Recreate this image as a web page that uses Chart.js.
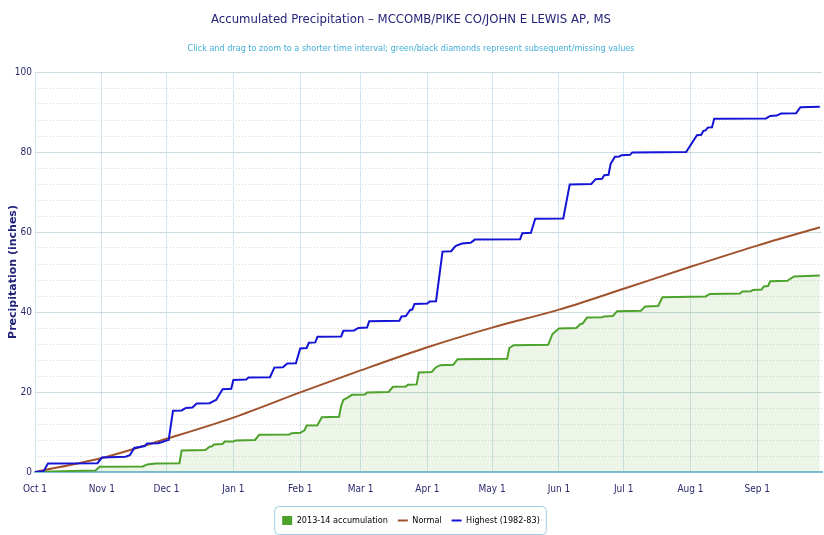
<!DOCTYPE html>
<html>
<head>
<meta charset="utf-8">
<script src="https://cdn.jsdelivr.net/npm/chart.js@4.4.1/dist/chart.umd.min.js"></script>
<style>
html,body{margin:0;padding:0;background:#fff;}
#wrap{width:824px;height:535px;}
</style>
</head>
<body>
<div id="wrap"><canvas id="c" width="824" height="535"></canvas></div>
<script>
// ---- Data (day index from Oct 1) ----
const monthDays   = [0, 31, 61, 92, 123, 151, 182, 212, 243, 273, 304, 335];
const monthLabels = ['Oct 1','Nov 1','Dec 1','Jan 1','Feb 1','Mar 1','Apr 1','May 1','Jun 1','Jul 1','Aug 1','Sep 1'];
const yTickValues = [0, 20, 40, 60, 80, 100];

const obsDays   = [0,12,28,30,50,52,56,67,68,79,81,82,83,87,88,92,93,102,104,118,119,123,125,126,131,133,141,142,143,145,147,153,154,164,166,172,173,177,178,184,186,188,194,196,219,220,222,238,240,243,251,253,254,256,263,264,268,270,281,283,289,291,311,313,327,328,332,333,337,338,340,341,349,350,352,364];
const obsValues = [0,0.2,0.4,1.3,1.4,1.9,2.1,2.2,5.4,5.5,6.3,6.4,6.9,7.0,7.6,7.6,7.9,8.0,9.3,9.4,9.7,9.8,10.4,11.6,11.7,13.7,13.8,16.5,18.0,18.6,19.3,19.4,19.9,20.0,21.3,21.4,21.8,21.9,24.9,25.0,26.2,26.7,26.8,28.2,28.3,31.0,31.7,31.8,34.5,35.9,36.0,37.0,37.1,38.6,38.7,38.9,39.0,40.2,40.3,41.4,41.5,43.7,43.9,44.5,44.6,45.1,45.2,45.5,45.6,46.4,46.5,47.7,47.8,48.2,48.9,49.1];

const normalDays   = [0,31,61,92,123,151,182,212,243,273,304,335,364];
const normalValues = [0,3.5,8.3,13.6,19.9,25.4,31.2,36.1,40.6,45.8,51.3,56.6,61.2];

const highDays   = [0,4,6,29,31,42,44,46,51,52,57,59,61,62,64,68,70,73,75,81,83,84,87,91,92,98,99,109,111,115,117,121,123,126,127,130,131,142,143,148,150,154,155,169,170,172,174,175,176,182,183,186,189,193,195,198,202,204,225,226,230,232,245,248,258,260,263,264,266,267,269,271,272,276,277,302,307,309,310,311,312,314,315,339,341,344,346,353,355,364];
const highValues = [0,0.2,2.1,2.2,3.6,3.8,4.2,6.0,6.5,7.1,7.2,7.5,7.9,8.0,15.3,15.4,16.0,16.1,17.1,17.2,17.8,18.0,20.7,20.8,23.0,23.1,23.6,23.7,26.1,26.2,27.1,27.2,30.9,31.0,32.3,32.4,33.8,33.9,35.3,35.4,36.0,36.1,37.7,37.8,38.9,39.0,40.5,40.6,42.0,42.1,42.6,42.7,55.1,55.2,56.5,57.1,57.3,58.1,58.2,59.7,59.8,63.3,63.4,71.9,72.0,73.2,73.3,74.2,74.3,77.1,78.8,78.9,79.2,79.3,79.9,80.0,84.2,84.3,85.3,85.4,86.1,86.2,88.3,88.4,89.0,89.1,89.6,89.7,91.2,91.3];

const seriesNames = ['2013-14 accumulation', 'Normal', 'Highest (1982-83)'];

const pts = (xs, ys) => xs.map((x, i) => ({ x: x, y: ys[i] }));

const NAVY = '#2a2a6e';
const NARROW = '"Liberation Sans Narrow","DejaVu Sans Condensed","Open Sans",sans-serif';

const legendBorder = {
  id: 'legendBorder',
  afterDraw(chart) {
    const lg = chart.legend;
    if (!lg || !lg.legendHitBoxes || !lg.legendHitBoxes.length) return;
    const boxes = lg.legendHitBoxes;
    let l = Infinity, r = -Infinity;
    boxes.forEach(b => { l = Math.min(l, b.left); r = Math.max(r, b.left + b.width); });
    const ctx = chart.ctx;
    ctx.save();
    ctx.strokeStyle = '#9fd0e4';
    ctx.lineWidth = 1;
    ctx.beginPath();
    ctx.roundRect(l - 7.5, lg.top + 0.5, (r - l) + 14, lg.height - 1, 4);
    ctx.stroke();
    ctx.restore();
  }
};

new Chart(document.getElementById('c'), {
  type: 'line',
  data: {
    datasets: [
      {
        label: seriesNames[0],
        data: pts(obsDays, obsValues),
        borderColor: '#4ca22a',
        backgroundColor: 'rgba(80,160,40,0.10)',
        fill: 'origin',
        borderWidth: 2,
        pointRadius: 0,
        tension: 0,
        order: 3
      },
      {
        label: seriesNames[1],
        data: pts(normalDays, normalValues),
        borderColor: '#a0522d',
        backgroundColor: '#a0522d',
        fill: false,
        borderWidth: 2,
        pointRadius: 0,
        cubicInterpolationMode: 'monotone',
        order: 2
      },
      {
        label: seriesNames[2],
        data: pts(highDays, highValues),
        borderColor: '#1414d6',
        backgroundColor: '#1414d6',
        fill: false,
        borderWidth: 2,
        pointRadius: 0,
        tension: 0,
        order: 1
      }
    ]
  },
  options: {
    responsive: false,
    animation: false,
    layout: { padding: { left: 0, right: 2, top: 0, bottom: 0 } },
    plugins: {
      title: {
        display: true,
        text: 'Accumulated Precipitation – MCCOMB/PIKE CO/JOHN E LEWIS AP, MS',
        color: '#232378',
        font: { family: NARROW, size: 13, weight: 'normal' },
        padding: { top: 12, bottom: 11 }
      },
      subtitle: {
        display: true,
        text: 'Click and drag to zoom to a shorter time interval; green/black diamonds represent subsequent/missing values',
        color: '#45aed6',
        font: { family: NARROW, size: 9, weight: 'normal' },
        padding: { top: 5, bottom: 17.6 }
      },
      legend: {
        position: 'bottom',
        labels: {
          usePointStyle: true,
          pointStyleWidth: 10,
          boxHeight: 10,
          boxWidth: 10,
          padding: 10,
          color: '#222244',
          font: { family: NARROW, size: 9 },
          generateLabels(chart) {
            return chart.data.datasets.map((ds, i) => ({
              text: ds.label,
              fillStyle: ds.borderColor,
              strokeStyle: ds.borderColor,
              lineWidth: i === 0 ? 0 : 2,
              pointStyle: i === 0 ? 'rect' : 'line',
              hidden: false,
              datasetIndex: i
            }));
          }
        }
      },
      tooltip: { enabled: false }
    },
    scales: {
      x: {
        type: 'linear',
        min: 0,
        max: 365,
        afterBuildTicks(scale) { scale.ticks = monthDays.map(v => ({ value: v })); },
        afterFit(scale) { scale.height = 34; },
        ticks: {
          color: NAVY,
          font: { family: NARROW, size: 10 },
          padding: 11,
          maxRotation: 0,
          autoSkip: false,
          callback: (v) => { const i = monthDays.indexOf(v); return i >= 0 ? monthLabels[i] : ''; }
        },
        grid: { color: '#d4e6ef', lineWidth: 1, drawTicks: false },
        border: { color: '#7fbcd6', width: 2 }
      },
      y: {
        min: 0,
        max: 100,
        afterBuildTicks(scale) { scale.ticks = yTickValues.map(v => ({ value: v })); },
        afterFit(scale) { scale.width = 35; },
        ticks: {
          color: NAVY,
          font: { family: NARROW, size: 10 },
          padding: 3
        },
        grid: { color: '#c6dce7', lineWidth: 1, drawTicks: false },
        border: { display: false },
        title: {
          display: true,
          text: 'Precipitation (inches)',
          color: '#22227a',
          font: { family: '"DejaVu Sans",sans-serif', size: 11, weight: 'bold' },
          padding: { top: 7, bottom: 0 }
        }
      },
      yMinor: {
        position: 'left',
        min: 0,
        max: 100,
        ticks: { display: false, stepSize: 4 },
        afterFit(scale) { scale.width = 0; },
        grid: { color: '#d8d8d8', lineWidth: 1, drawTicks: false },
        border: { display: false, dash: [1, 2] }
      }
    }
  },
  plugins: [legendBorder]
});
</script>
</body>
</html>
